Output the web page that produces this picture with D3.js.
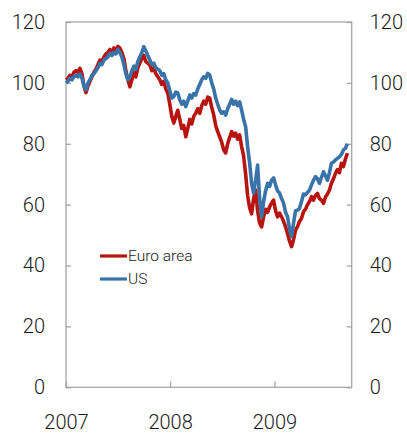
<!DOCTYPE html>
<html><head><meta charset="utf-8">
<script src="https://cdn.jsdelivr.net/npm/d3@7"></script>
<style>
html,body{margin:0;padding:0;background:#fff;}
text{font-family:Roboto,"Noto Sans",sans-serif;fill:#1a1a1a;font-weight:300;}
</style></head>
<body><svg id="c" width="407" height="433"></svg>
<script>
const startDate = "2007-01-01";
const endDate = "2009-09-29";
const yTicks = [0, 20, 40, 60, 80, 100, 120];
const xTickLabels = ["2007", "2008", "2009"];
const seriesNames = ["Euro area", "US"];
const euroArea = [101, 101.5, 102.5, 102, 103.5, 104, 103.5, 104.8,
 103, 99, 96.8,
 99, 100.5, 102, 103.5, 104.5, 106, 107.5,
 107, 108.5, 109.5, 110, 111,
 110, 111.5, 110.5, 112, 111.4,
 110, 108, 104, 101, 98.7,
 101, 103.5, 102, 105,
 106.5, 108, 109, 107, 106.5,
 105.9, 104, 105, 103, 102, 101,
 99.5, 100.5, 98, 96.6,
 93, 89, 86.8, 89, 91,
 88, 85, 86, 82.3,
 85, 88, 86.5, 89, 90,
 91.5, 90, 92.5, 94, 93, 95.3, 95,
 92, 89.5, 86, 84, 82.3, 80.5, 78, 77,
 80, 82, 84, 82.5, 83.5, 81.5, 82.9,
 79, 76, 70, 63, 59, 57, 62, 64.8, 58, 54, 52.7,
 56, 58.5, 57.5, 59.3, 60.5, 61.5, 58, 56, 57.2, 56, 54.5, 52.7, 50.5, 48, 46.2,
 48.5, 51.6, 52.8, 54.5, 55.5, 57.7, 58.5, 60, 61, 62.6,
 61.5, 63, 63.7, 62, 61.5, 60.4, 62.5, 63.5, 64.8,
 67, 68.5, 70.3, 71.5, 70.5, 73.6, 72.5, 75, 76.9];
const us = [100, 100.5, 101.5, 101, 102, 102.5, 102, 102.9,
 101.5, 99, 97.7,
 100, 101, 102.5, 103, 104, 105, 106.4,
 106, 107.5, 108, 108.5, 109.7,
 109, 110, 109.5, 111, 110,
 108.5, 106, 103, 101, 102,
 104, 105.5, 104.5, 107,
 108.5, 110, 111.9, 110.5, 109,
 107.5, 106, 106.5, 105, 104.5, 104,
 102.5, 103, 101, 100,
 97.5, 95, 95.5, 97, 96.7,
 94.5, 93, 94, 92.2,
 94, 96, 95, 96.5, 96,
 98, 99.5, 101, 102, 101.5, 103.1, 102.6,
 100, 98, 95, 93, 91.1, 90, 90.5, 89.4,
 91.5, 93, 94.6, 93, 94, 92.5, 93.8,
 91, 88, 85.6, 79, 73.7, 67, 63.8, 68, 73, 62, 56,
 61, 64.5, 67, 66, 68, 68.8, 66.5, 64.5, 63.8, 62, 60.5, 57.5, 56, 52, 49.5,
 54, 58, 58.2, 58.8, 61, 63.5, 63.2, 64, 64.8, 66.5,
 68, 69.2, 68.5, 67, 69, 70.8, 69.5, 68, 70.5,
 73.6, 74, 74.7, 75.2, 75.7, 76.5, 78, 78.5, 80];
const colors = ["#B8140F", "#3874AA"];

const svg = d3.select("#c");
const L = 66, R = 351.7, T = 22, B = 387.3;
const t0 = new Date(startDate + "T00:00:00Z");
const x = d3.scaleUtc().domain([t0, new Date(endDate + "T00:00:00Z")]).range([L, R]);
const y = d3.scaleLinear().domain([0, 120]).range([B, T]);
const dates = euroArea.map((_, i) => d3.utcDay.offset(t0, 7 * i));

// frame
const axisColor = "#a6a6a6";
svg.append("rect").attr("x", L).attr("y", T).attr("width", R - L).attr("height", B - T)
  .attr("fill", "none").attr("stroke", axisColor).attr("stroke-width", 1.3);

const styleAxis = g => {
  g.select(".domain").remove();
  g.selectAll(".tick line").attr("stroke", axisColor).attr("stroke-width", 1.3);
  g.selectAll(".tick text").attr("font-size", 20).attr("font-family", "Roboto, 'Noto Sans', sans-serif")
    .attr("font-weight", 300).attr("fill", "#1a1a1a");
};

svg.append("g").attr("transform", `translate(${L},0)`)
  .call(d3.axisLeft(y).tickValues(yTicks).tickSizeInner(-5).tickSizeOuter(0).tickPadding(21))
  .call(styleAxis);
svg.append("g").attr("transform", `translate(${R},0)`)
  .call(d3.axisRight(y).tickValues(yTicks).tickSizeInner(-5).tickSizeOuter(0).tickPadding(18))
  .call(styleAxis);

const yearDates = xTickLabels.map(s => new Date(s + "-01-01T00:00:00Z"));
svg.append("g").attr("transform", `translate(0,${B})`)
  .call(d3.axisBottom(x).tickValues(yearDates).tickFormat(d3.utcFormat("%Y"))
    .tickSizeInner(-6).tickSizeOuter(0).tickPadding(28))
  .call(styleAxis);

const line = d3.line().x((d, i) => x(dates[i])).y(d => y(d));
[euroArea, us].forEach((s, k) => {
  svg.append("path").datum(s).attr("d", line).attr("fill", "none")
    .attr("stroke", colors[k]).attr("stroke-width", 3.6)
    .attr("stroke-linejoin", "round").attr("stroke-linecap", "butt");
});

// legend
const lg = svg.append("g");
seriesNames.forEach((n, k) => {
  const yy = 256 + k * 23;
  lg.append("line").attr("x1", 100).attr("x2", 127).attr("y1", yy).attr("y2", yy)
    .attr("stroke", colors[k]).attr("stroke-width", 3.2);
  lg.append("text").attr("x", 128).attr("y", yy).attr("dy", "0.35em")
    .attr("font-size", 15.5).attr("font-weight", 300).text(n);
});
</script></body></html>
